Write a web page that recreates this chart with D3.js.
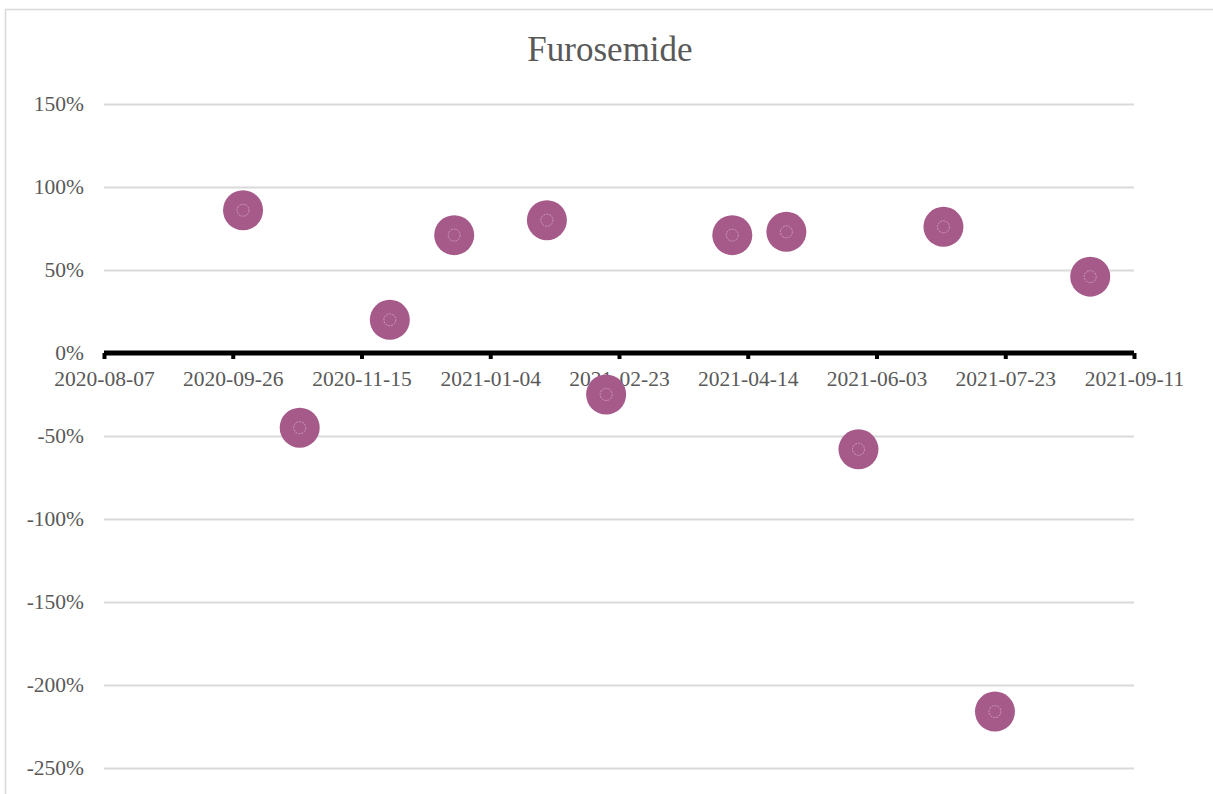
<!DOCTYPE html>
<html>
<head>
<meta charset="utf-8">
<script src="https://cdn.jsdelivr.net/npm/d3@7"></script>
<style>
  html, body { margin: 0; padding: 0; background: #fff; }
  svg { display: block; }
  text { font-family: "Liberation Serif", "DejaVu Serif", serif; fill: #595959; }
</style>
</head>
<body>
<svg id="chart" width="1213" height="794"></svg>
<script>
// Measurement dates and relative change values
const dates = ["2020-09-30", "2020-10-22", "2020-11-26", "2020-12-21", "2021-01-26", "2021-02-18",
               "2021-04-08", "2021-04-29", "2021-05-27", "2021-06-29", "2021-07-19", "2021-08-25"];
const values = [0.86, -0.45, 0.20, 0.71, 0.80, -0.25, 0.71, 0.73, -0.58, 0.76, -2.16, 0.46];

const xTickLabels = ["2020-08-07", "2020-09-26", "2020-11-15", "2021-01-04", "2021-02-23",
                     "2021-04-14", "2021-06-03", "2021-07-23", "2021-09-11"];
const yTickValues = [1.5, 1.0, 0.5, 0, -0.5, -1.0, -1.5, -2.0, -2.5];
const title = "Furosemide";

const parse = d3.utcParse("%Y-%m-%d");
const fmtDate = d3.utcFormat("%Y-%m-%d");
const fmtPct = d => `${Math.round(d * 100)}%`;
const svg = d3.select("#chart");

const plotLeft = 104, plotRight = 1134, plotTop = 104, plotBottom = 768;

const x = d3.scaleUtc()
  .domain([parse(xTickLabels[0]), parse(xTickLabels[xTickLabels.length - 1])])
  .range([plotLeft, plotRight]);
const y = d3.scaleLinear().domain([-2.5, 1.5]).range([plotBottom, plotTop]);

// Chart frame
svg.append("rect")
  .attr("x", 5.5).attr("y", 9.5).attr("width", 1220).attr("height", 800)
  .attr("fill", "none").attr("stroke", "#d9d9d9").attr("stroke-width", 1.5);

// Title
svg.append("text")
  .attr("x", 610).attr("y", 61)
  .attr("text-anchor", "middle")
  .attr("font-size", 35)
  .text(title);

// Horizontal gridlines and value axis labels
const yAxis = d3.axisLeft(y)
  .tickValues(yTickValues)
  .tickSize(-(plotRight - plotLeft))
  .tickPadding(20)
  .tickFormat(fmtPct);

const gy = svg.append("g").attr("transform", `translate(${plotLeft},0)`).call(yAxis);
gy.select(".domain").remove();
gy.selectAll(".tick line").attr("stroke", "#d9d9d9").attr("stroke-width", 2);
gy.selectAll(".tick text")
  .attr("font-size", 21.5)
  .attr("fill", "#595959")
  .attr("font-family", "Liberation Serif, serif")
  .attr("dy", "0.3em");

// Date axis along the zero line
const xAxis = d3.axisBottom(x)
  .tickValues(xTickLabels.map(parse))
  .tickSize(6)
  .tickPadding(12)
  .tickFormat(fmtDate);

const gx = svg.append("g").attr("transform", `translate(0,${y(0)})`).call(xAxis);
gx.select(".domain").attr("stroke", "#000").attr("stroke-width", 5).attr("d", `M${plotLeft},0H${plotRight}`);
gx.selectAll(".tick line").attr("stroke", "#000").attr("stroke-width", 4);
gx.selectAll(".tick text")
  .attr("font-size", 21.5)
  .attr("fill", "#595959")
  .attr("font-family", "Liberation Serif, serif");

// Data markers
const pts = dates.map((d, i) => ({ date: parse(d), value: values[i] }));
const g = svg.append("g");
g.selectAll("circle.dot")
  .data(pts)
  .join("circle")
  .attr("class", "dot")
  .attr("cx", d => x(d.date))
  .attr("cy", d => y(d.value))
  .attr("r", 20)
  .attr("fill", "#a65a8a");
g.selectAll("circle.inner")
  .data(pts)
  .join("circle")
  .attr("class", "inner")
  .attr("cx", d => x(d.date))
  .attr("cy", d => y(d.value))
  .attr("r", 6)
  .attr("fill", "none")
  .attr("stroke", "#d7a6c4")
  .attr("stroke-width", 0.8)
  .attr("stroke-dasharray", "2,1");
</script>
</body>
</html>
